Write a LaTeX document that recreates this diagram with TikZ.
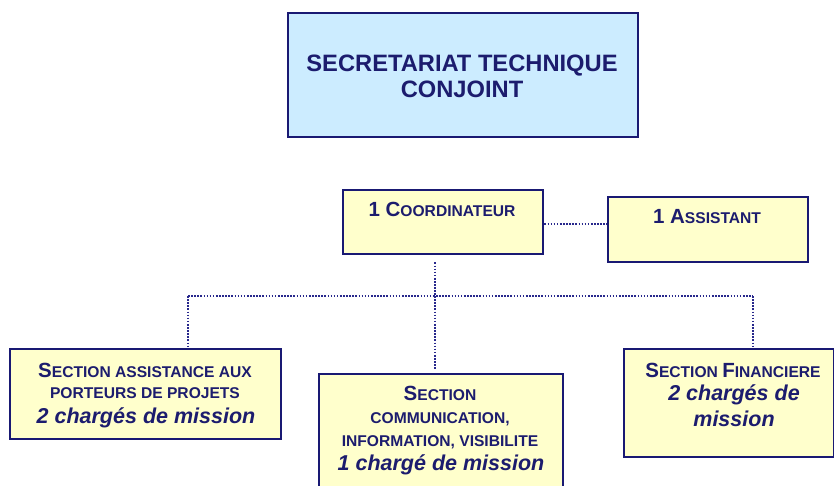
\documentclass[tikz,border=0pt]{standalone}
\usepackage{fontspec}
\setmainfont{Liberation Sans}
\definecolor{navy}{RGB}{25,25,115}
\definecolor{txt}{RGB}{28,28,110}
\definecolor{lblue}{RGB}{204,236,255}
\definecolor{lyellow}{RGB}{255,255,204}
\definecolor{dotc}{RGB}{40,40,140}
\newcommand\fs[1]{\fontsize{#1}{#1}\selectfont}
\newcommand\scbig{\fs{20.5}}
\newcommand\scsmall{\fs{15.6}}
\newcommand\scital{\fs{21.5}\itshape}
\tikzset{
  box/.style={draw=navy, line width=2.4pt, inner sep=0pt, anchor=north west},
  ybox/.style={box, fill=lyellow},
  lbl/.style={text=txt, font=\bfseries, inner sep=0pt, anchor=base},
  dotline/.style={draw=dotc, line width=2.4pt, dash pattern=on 1.6pt off 1.5pt}
}
\begin{document}
\begin{tikzpicture}[x=1pt,y=-1pt]
\useasboundingbox (0,0) rectangle (834,486);
\clip (0,0) rectangle (834,486);
% boxes
\node[box, fill=lblue, minimum width=350pt, minimum height=124pt] (stc) at (287,12) {};
\node[ybox, minimum width=200pt, minimum height=64pt] (coord) at (342,189) {};
\node[ybox, minimum width=200pt, minimum height=65pt] (assist) at (607,196) {};
\node[ybox, minimum width=271pt, minimum height=90pt] (sap) at (9,348) {};
\node[ybox, minimum width=244pt, minimum height=130pt] (scom) at (318,373) {};
\node[ybox, minimum width=210pt, minimum height=108pt] (sfin) at (623,348) {};
% texts
\node[lbl, font=\bfseries\fs{23.7}] (t0a) at (462,72) {SECRETARIAT TECHNIQUE};
\node[lbl, font=\bfseries\fs{23.7}] (t0b) at (462,98) {CONJOINT};
\node[lbl] (t1) at (442,216) {\scbig 1 C\scsmall OORDINATEUR};
\node[lbl] (t2) at (707,223) {\scbig 1 A\scsmall SSISTANT};
\node[lbl] (t3a) at (145,377) {\scbig S\scsmall ECTION ASSISTANCE AUX};
\node[lbl] (t3b) at (145,398) {\scsmall PORTEURS DE PROJETS};
\node[lbl] (t3c) at (146,423) {\scital 2 chargés de mission};
\node[lbl] (t4a) at (440,400) {\scbig S\scsmall ECTION};
\node[lbl] (t4b) at (440,423) {\scsmall COMMUNICATION,};
\node[lbl] (t4c) at (440,446) {\scsmall INFORMATION, VISIBILITE};
\node[lbl] (t4d) at (441,470) {\scital 1 chargé de mission};
\node[lbl] (t5a) at (733,377) {\scbig S\scsmall ECTION \scbig F\scsmall INANCIERE};
\node[lbl] (t5b) at (734,400) {\scital 2 chargés de};
\node[lbl] (t5c) at (734,426) {\scital mission};
% connectors
\coordinate (jc) at (435,296);
\coordinate (jl) at (188,296);
\coordinate (jr) at (753,296);
\draw[dotline] (coord.east |- 0,224) -- (assist.west |- 0,224);
\draw[dotline] (coord.south -| jc) ++(0,7) -- (jc);
\draw[dotline] (jl) -- (jr);
\draw[dotline] (jl) -- (jl |- sap.north);
\draw[dotline] (jc) -- ([yshift=4pt]jc |- scom.north);
\draw[dotline] (jr) -- (jr |- sfin.north);
\end{tikzpicture}
\end{document}
